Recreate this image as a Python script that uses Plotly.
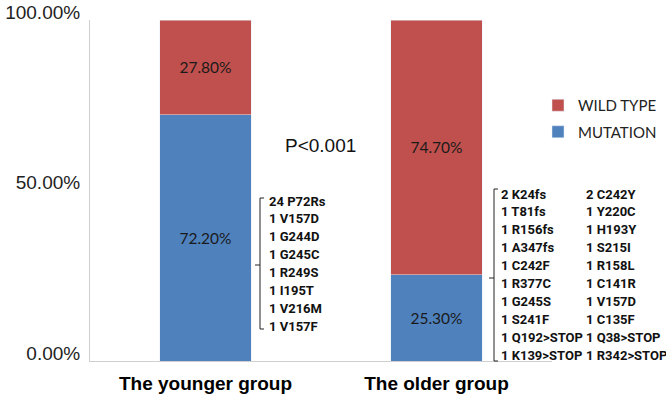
import plotly.graph_objects as go

categories = ["The younger group", "The older group"]
mutation = [0.722, 0.253]
wild_type = [0.278, 0.747]
y_tick_vals = [0, 0.5, 1.0]
y_tick_text = ["0.00%", "50.00%", "100.00%"]
p_value_text = "P<0.001"
younger_mutations = ["24 P72Rs", "1 V157D", "1 G244D", "1 G245C", "1 R249S", "1 I195T", "1 V216M", "1 V157F"]
older_mutations_col1 = ["2 K24fs", "1 T81fs", "1 R156fs", "1 A347fs", "1 C242F", "1 R377C", "1 G245S", "1 S241F", "1 Q192>STOP", "1 K139>STOP"]
older_mutations_col2 = ["2 C242Y", "1 Y220C", "1 H193Y", "1 S215I", "1 R158L", "1 C141R", "1 V157D", "1 C135F", "1 Q38>STOP", "1 R342>STOP"]

W, H = 666, 403
L, R, T, B = 90, 114, 20, 42
pw, ph = W - L - R, H - T - B

def px(x):
    return (x - L) / pw

def py(y):
    return (H - B - y) / ph

RED = "#C0504D"
BLUE = "#4F81BD"
label_font = dict(family="Lato, Calibri, sans-serif", size=15.5, color="#1a1a1a")

fig = go.Figure()
fig.add_trace(go.Bar(
    name="MUTATION", x=categories, y=mutation, marker_color=BLUE, width=0.395,
    legendgroup="m", legendrank=2,
    texttemplate="%{y:.2%}", textposition="inside", insidetextanchor="middle",
    textangle=0, textfont=label_font, hoverinfo="skip",
))
fig.add_trace(go.Bar(
    name="WILD TYPE", x=categories, y=wild_type, marker_color=RED, width=0.395,
    legendgroup="w", legendrank=1,
    texttemplate="%{y:.2%}", textposition="inside", insidetextanchor="middle",
    textangle=0, textfont=label_font, hoverinfo="skip",
))

mut_font = dict(family="Roboto, Calibri, sans-serif", size=13, color="#111")

def text_column(lines, x_left, y_first, step):
    for i, s in enumerate(lines):
        fig.add_annotation(text="<b>" + s + "</b>", xref="paper", yref="paper",
                           x=px(x_left), y=py(y_first + i * step), xanchor="left", yanchor="middle",
                           showarrow=False, align="left", font=mut_font)

text_column(younger_mutations, 267, 201, 17.9)
text_column(older_mutations_col1, 499, 194, 17.9)
text_column(older_mutations_col2, 584, 194, 17.9)

fig.add_annotation(text=p_value_text, xref="paper", yref="paper", x=px(320), y=py(145),
                   xanchor="center", yanchor="middle", showarrow=False,
                   font=dict(family="Liberation Sans, Arial, sans-serif", size=19, color="#111"))

def bracket(xv, y0, y1, ym, hook=4, tick=5):
    path = (f"M {px(xv+hook)} {py(y0)} L {px(xv)} {py(y0)} L {px(xv)} {py(y1)} L {px(xv+hook)} {py(y1)} "
            f"M {px(xv)} {py(ym)} L {px(xv-tick)} {py(ym)}")
    fig.add_shape(type="path", path=path, xref="paper", yref="paper",
                  line=dict(color="#222", width=1))

bracket(260, 198, 329, 265)
bracket(494, 189, 361, 278)

fig.update_layout(
    width=W, height=H, barmode="stack",
    margin=dict(l=L, r=R, t=T, b=B, autoexpand=False),
    plot_bgcolor="white", paper_bgcolor="white",
    showlegend=True, hovermode=False,
    legend=dict(x=px(538), y=py(89), xanchor="left", yanchor="top", traceorder="grouped",
                font=dict(family="Lato, Calibri, sans-serif", size=15, color="#222"),
                itemwidth=30, tracegroupgap=4, bgcolor="rgba(0,0,0,0)"),
    xaxis=dict(range=[-0.5, 1.5], showline=True, linecolor="#cfcfcf", linewidth=1,
               ticks="", ticklabelstandoff=5, automargin=False,
               tickfont=dict(family="Liberation Sans, Arial, sans-serif", size=19, color="#000"),
               tickprefix="<b>", ticksuffix="</b>"),
    yaxis=dict(range=[0, 1], tickvals=y_tick_vals, ticktext=y_tick_text, showline=True,
               linecolor="#cfcfcf", linewidth=1, showgrid=False, zeroline=False, ticks="",
               ticklabelshift=-8, ticklabelstandoff=5, automargin=False,
               tickfont=dict(family="Liberation Sans, Arial, sans-serif", size=19, color="#222")),
)

fig.write_html("out.html", config={"displayModeBar": False, "staticPlot": True},
               post_script="document.body.style.margin='0';")
